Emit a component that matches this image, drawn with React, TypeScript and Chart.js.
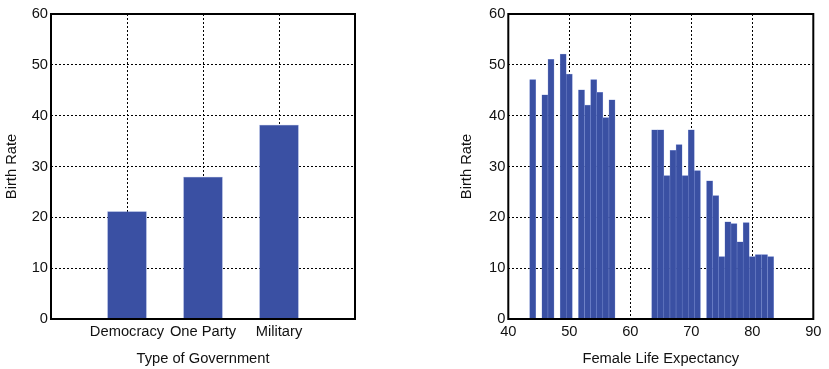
import React, { useEffect, useRef } from 'react';
import { Chart, registerables } from 'chart.js';

Chart.register(...registerables);

// ---- data ----
const govCategories = ['', 'Democracy', 'One Party', 'Military', ''];
const govBirthRate = [null, 21.2, 28.0, 38.2, null];

const lifeExpectancy = [44, 46, 47, 49, 50, 52, 53, 54, 55, 56, 57, 64, 65, 66, 67, 68, 69, 70, 71, 73, 74, 75, 76, 77, 78, 79, 80, 81, 82, 83];
const lifeBirthRate = [47.1, 44.1, 51.1, 52.1, 48.2, 45.1, 42.1, 47.1, 44.6, 39.6, 43.1, 37.2, 37.2, 28.2, 33.2, 34.3, 28.2, 37.2, 29.2, 27.2, 24.3, 12.3, 19.1, 18.75, 15.2, 18.95, 12.3, 12.65, 12.65, 12.3];

const yMin = 0;
const yMax = 60;
const yStep = 10;
const lifeMin = 40;
const lifeMax = 90;
const lifeStep = 10;

const yTitle = 'Birth Rate';
const govTitle = 'Type of Government';
const lifeTitle = 'Female Life Expectancy';

// ---- styles ----
const BAR_COLOR = '#3a50a3';
const BAR_EDGE = 'rgba(120,140,210,0.85)';
const FONT = { family: '"Liberation Sans", Arial, sans-serif', size: 14.7 };
const TEXT = '#111';

const framePlugin = {
  id: 'frame',
  afterDraw(chart: any) {
    const { ctx, chartArea: a } = chart;
    ctx.save();
    ctx.strokeStyle = '#000';
    ctx.lineWidth = 2;
    ctx.strokeRect(a.left, a.top, a.right - a.left, a.bottom - a.top);
    ctx.restore();
  },
};

function gridOpts() {
  return {
    color: '#000',
    lineWidth: 1,
    drawTicks: false,
    offset: false,
  };
}

function yScale(axisWidth: number, titlePad: number) {
  return {
    min: yMin,
    max: yMax,
    ticks: { stepSize: yStep, font: FONT, color: TEXT, padding: 3 },
    grid: gridOpts(),
    border: { display: false, dash: [2, 2] },
    title: { display: true, text: yTitle, font: FONT, color: TEXT, padding: { top: titlePad, bottom: 0 } },
    afterFit(scale: any) {
      scale.width = axisWidth;
    },
  };
}

function xExtras(axisHeight: number) {
  return {
    grid: gridOpts(),
    border: { display: false, dash: [2, 2] },
    afterFit(scale: any) {
      scale.height = axisHeight;
    },
  };
}

function GovChart() {
  const ref = useRef<HTMLCanvasElement>(null);
  useEffect(() => {
    const chart = new Chart(ref.current!, {
      type: 'bar',
      data: {
        labels: govCategories,
        datasets: [
          {
            data: govBirthRate as any,
            backgroundColor: BAR_COLOR,
            borderColor: BAR_EDGE,
            borderWidth: 0.5,
            barPercentage: 0.52,
            categoryPercentage: 1,
          },
        ],
      },
      options: {
        responsive: false,
        animation: false,
        devicePixelRatio: 1,
        layout: { padding: { left: 0, right: 65, top: 14, bottom: 0 } },
        plugins: { legend: { display: false }, tooltip: { enabled: false } },
        scales: {
          x: {
            type: 'category',
            offset: false,
            ticks: { font: FONT, color: TEXT, padding: 4, autoSkip: false, maxRotation: 0 },
            title: { display: true, text: govTitle, font: FONT, color: TEXT, padding: { top: 0, bottom: 1.5 } },
            ...xExtras(50),
          } as any,
          y: yScale(51, 3) as any,
        },
      },
      plugins: [framePlugin],
    });
    return () => chart.destroy();
  }, []);
  return <canvas ref={ref} width={420} height={369} style={{ width: 420, height: 369, display: 'block' }} />;
}

function LifeChart() {
  const ref = useRef<HTMLCanvasElement>(null);
  useEffect(() => {
    const points = lifeExpectancy.map((x, i) => ({ x, y: lifeBirthRate[i] }));
    const chart = new Chart(ref.current!, {
      type: 'bar',
      data: {
        datasets: [
          {
            data: points as any,
            backgroundColor: BAR_COLOR,
            borderColor: BAR_EDGE,
            borderWidth: 0.5,
            barPercentage: 1,
            categoryPercentage: 1,
          },
        ],
      },
      options: {
        responsive: false,
        animation: false,
        devicePixelRatio: 1,
        layout: { padding: { left: 0, right: 15.7, top: 14, bottom: 0 } },
        plugins: { legend: { display: false }, tooltip: { enabled: false } },
        scales: {
          x: {
            type: 'linear',
            min: lifeMin,
            max: lifeMax,
            offset: false,
            ticks: { stepSize: lifeStep, font: FONT, color: TEXT, padding: 4, maxRotation: 0 },
            title: { display: true, text: lifeTitle, font: FONT, color: TEXT, padding: { top: 0, bottom: 1.5 } },
            ...xExtras(50),
          } as any,
          y: yScale(68.3, 18) as any,
        },
      },
      plugins: [framePlugin],
    });
    return () => chart.destroy();
  }, []);
  return <canvas ref={ref} width={389} height={369} style={{ width: 389, height: 369, display: 'block' }} />;
}

export default function App() {
  return (
    <div style={{ position: 'absolute', left: 0, top: 0, width: 829, height: 369, background: '#fff', overflow: 'hidden' }}>
      <div style={{ position: 'absolute', left: 0, top: 0 }}>
        <GovChart />
      </div>
      <div style={{ position: 'absolute', left: 440, top: 0 }}>
        <LifeChart />
      </div>
    </div>
  );
}
